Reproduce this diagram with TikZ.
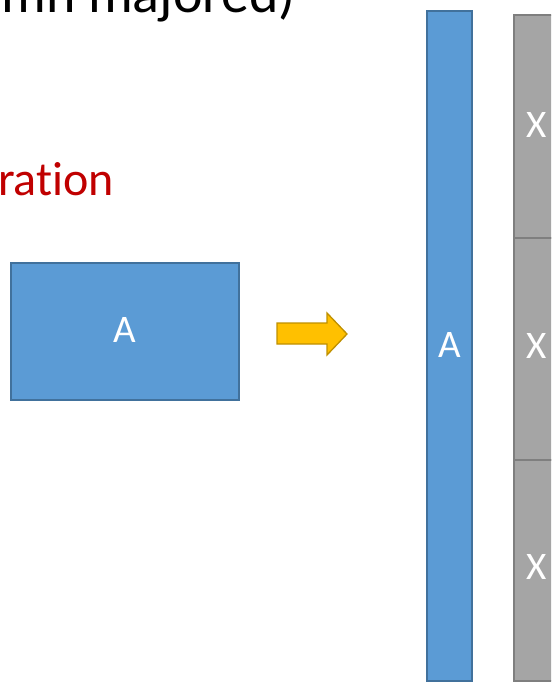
\documentclass[tikz,border=0pt]{standalone}
\usepackage{fontspec}
\setmainfont[Ligatures=NoCommon]{Carlito}
\begin{document}
\begin{tikzpicture}[x=1pt,y=-1pt,
  bluebox/.style={fill=bluefill, draw=blueline, line width=1.3pt, text=white},
  graybox/.style={fill=grayfill, draw=grayline, line width=1.3pt, text=white},
  lbl/.style={font=\fontsize{39}{40}\selectfont, text=white, inner sep=0pt}]
\definecolor{bluefill}{HTML}{5B9BD5}
\definecolor{blueline}{HTML}{41719C}
\definecolor{grayfill}{HTML}{A5A5A5}
\definecolor{grayline}{HTML}{7F7F7F}
\definecolor{arrfill}{HTML}{FFC000}
\definecolor{arrline}{HTML}{BF9000}
\definecolor{redtext}{HTML}{C00000}
\useasboundingbox (0,0) rectangle (551,682);
\clip (0,0) rectangle (551,682);
% title
\node[anchor=base east, inner sep=0pt, font=\fontsize{56}{60}\selectfont] (title) at (296,13) {mn majored)};
% red text
\node[anchor=base west, inner sep=0pt, text=redtext, font=\fontsize{48}{50}\selectfont] (red) at (-2,195) {ration};
% box A
\draw[bluebox] (11,263) rectangle (239,400);
\node[lbl, anchor=base] (a1) at (125,342) {A};
% arrow
\draw[fill=arrfill, draw=arrline, line width=1.3pt, line join=miter]
  (277,323) -- (327,323) -- (327,313) -- (347,334) -- (327,355) -- (327,344) -- (277,344) -- cycle;
% tall A
\draw[bluebox] (427,11) rectangle (472,681);
\node[lbl, anchor=base] (a2) at (450,357) {A};
% gray boxes
\draw[graybox] (514,15) rectangle (580,238);
\draw[graybox] (514,238) rectangle (580,460);
\draw[graybox] (514,460) rectangle (580,681);
\node[lbl, anchor=base west] (x1) at (526,137) {X};
\node[lbl, anchor=base west] (x2) at (526,358) {X};
\node[lbl, anchor=base west] (x3) at (526,579) {X};
\end{tikzpicture}
\end{document}
